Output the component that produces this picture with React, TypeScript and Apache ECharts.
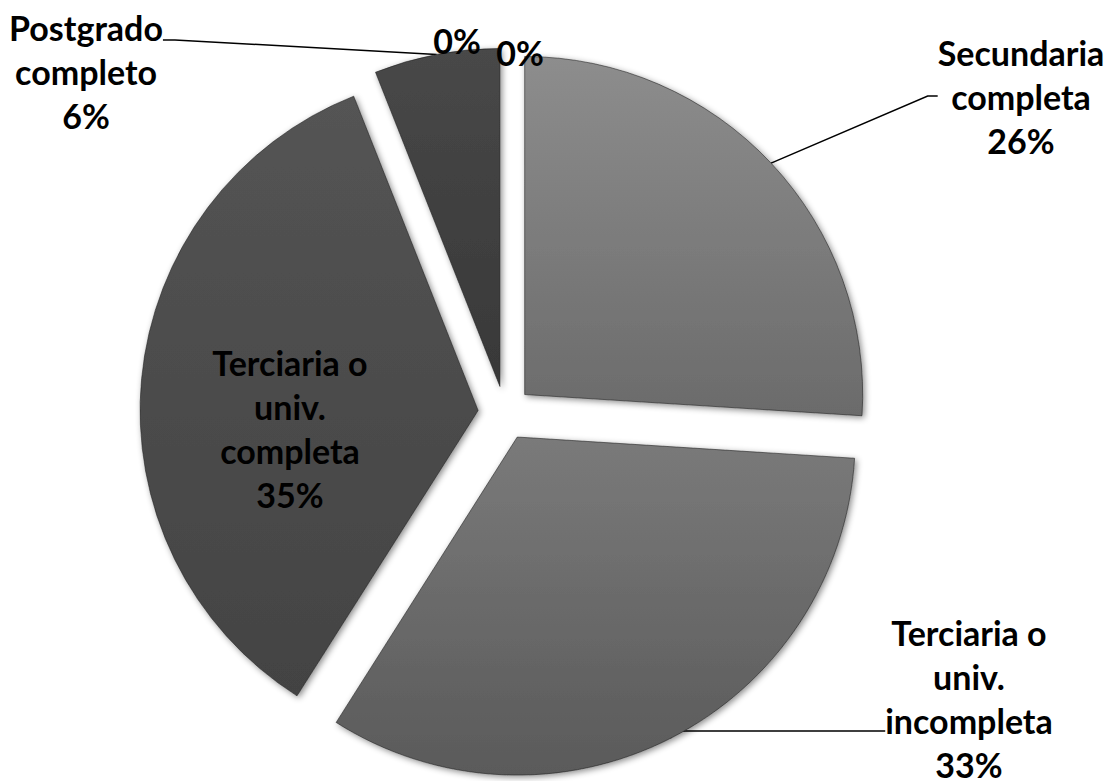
import React, { useEffect, useRef } from 'react';
import * as echarts from 'echarts';

// ---- data ----
const categories = [
  'Secundaria completa',
  'Terciaria o univ. incompleta',
  'Terciaria o univ. completa',
  'Postgrado completo',
  'Primaria incompleta',
  'Primaria completa',
];
const labelNames = [
  ['Secundaria', 'completa'],
  ['Terciaria o', 'univ.', 'incompleta'],
  ['Terciaria o', 'univ.', 'completa'],
  ['Postgrado', 'completo'],
  [],
  [],
];
const values = [26, 33, 35, 6, 0, 0];

// ---- styles ----
const topColors = ['#8d8d8d', '#7a7a7a', '#545454', '#484848', '#666666', '#666666'];
const bottomColors = ['#6b6b6b', '#5a5a5a', '#434343', '#383838', '#555555', '#555555'];
const labelSpots = [
  { x: 1021, y: 96 },
  { x: 969, y: 731 },
  { x: 290, y: 428 },
  { x: 86, y: 40 },
  { x: 457, y: 40 },
  { x: 520, y: 52 },
];
// spacer line above / below the text, so the leader line meets the right text line
const spacerTop = [0, 0, 0, 62, 0, 0];
const spacerBottom = [0, 66, 0, 0, 0, 0];
const leaderLen2 = [10, 225, 0, 12, 0, 0];
const leaderShow = [true, true, false, true, false, false];
const labelInside = [false, false, true, false, false, false];

export default function App() {
  const ref = useRef<HTMLDivElement>(null);

  useEffect(() => {
    if (!ref.current) return;
    const chart = echarts.init(ref.current, undefined, { renderer: 'svg' });

    const sliceData = categories.map((name, i) => ({
      name,
      value: values[i],
      selected: true,
      itemStyle: {
        color: {
          type: 'linear',
          x: 0,
          y: 0,
          x2: 0,
          y2: 1,
          colorStops: [
            { offset: 0, color: topColors[i] },
            { offset: 1, color: bottomColors[i] },
          ],
        },
      },
    }));

    const labelData = categories.map((name, i) => ({
      name,
      value: values[i],
      label: {
        position: labelInside[i] ? 'inside' : 'outside',
        rich: {
          st: { lineHeight: spacerTop[i] || 1, fontSize: 1 },
          sb: { lineHeight: spacerBottom[i] || 1, fontSize: 1 },
        },
      },
      labelLine: {
        show: leaderShow[i],
        length2: leaderLen2[i],
      },
    }));

    const textStyle = {
      color: '#000',
      fontFamily: 'Lato',
      fontWeight: 'bold',
      fontSize: 34,
      lineHeight: 44,
    };

    chart.setOption({
      animation: false,
      series: [
        {
          type: 'pie',
          center: [505, 413],
          radius: 338,
          startAngle: 90,
          clockwise: true,
          selectedMode: 'multiple',
          selectedOffset: 27,
          silent: true,
          emphasis: { disabled: true },
          itemStyle: {
            borderColor: 'rgba(30,30,30,0.55)',
            borderWidth: 1,
            shadowBlur: 6,
            shadowColor: 'rgba(0,0,0,0.45)',
            shadowOffsetX: 2,
            shadowOffsetY: 2,
          },
          label: { show: false },
          labelLine: { show: false },
          data: sliceData,
        },
        {
          type: 'pie',
          center: [505, 413],
          radius: 365,
          startAngle: 90,
          clockwise: true,
          silent: true,
          avoidLabelOverlap: false,
          percentPrecision: 0,
          emphasis: { disabled: true },
          itemStyle: { color: 'rgba(0,0,0,0)', borderWidth: 0 },
          label: {
            show: true,
            ...textStyle,
            align: 'center',
            rich: { t: textStyle },
            formatter: (p: any) => {
              const i = p.dataIndex;
              const lines = labelNames[i].concat([p.percent + '%']).map((s) => '{t|' + s + '}');
              if (spacerTop[i]) lines.unshift('{st| }');
              if (spacerBottom[i]) lines.push('{sb| }');
              return lines.join('\n');
            },
          },
          labelLine: {
            lineStyle: { color: '#000', width: 1.5 },
            length: 10,
          },
          labelLayout: (p: any) => {
            const s = labelSpots[p.dataIndex];
            return { x: s.x, y: s.y, align: 'center', verticalAlign: 'middle' };
          },
          data: labelData,
        },
      ],
    });

    return () => chart.dispose();
  }, []);

  return (
    <div
      ref={ref}
      style={{ position: 'fixed', left: 0, top: 0, width: 1115, height: 781, background: '#fff' }}
    />
  );
}
